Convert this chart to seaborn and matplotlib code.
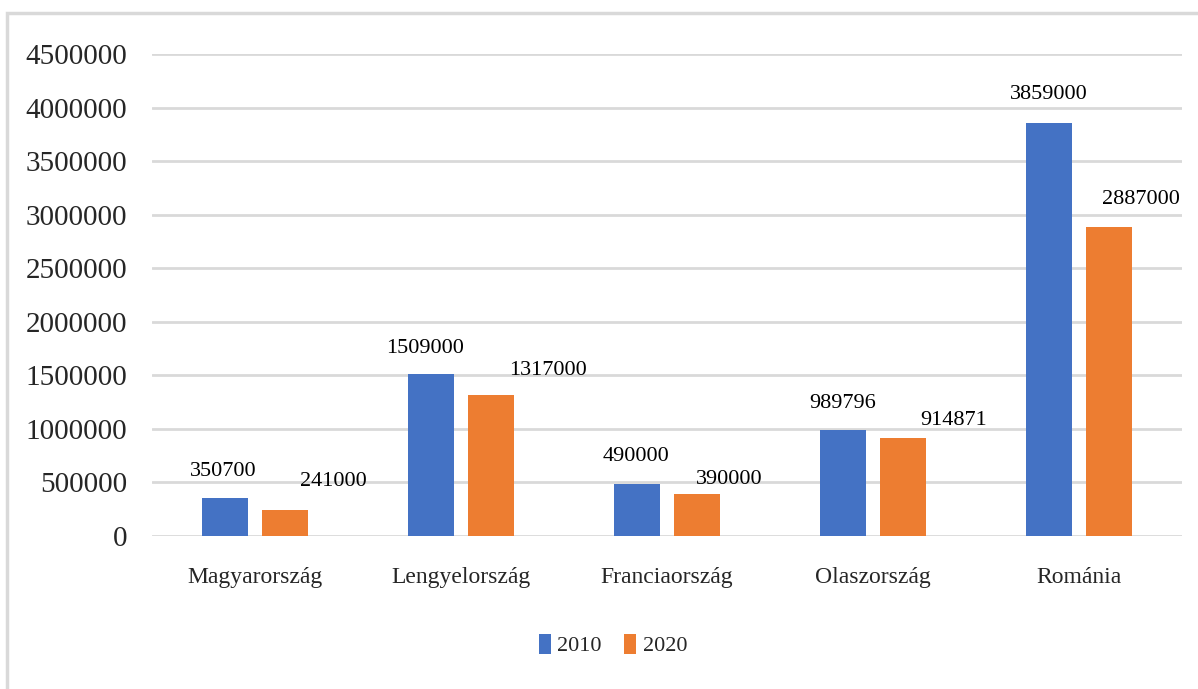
import matplotlib
matplotlib.use("Agg")
import matplotlib.pyplot as plt
import seaborn as sns
import pandas as pd
from matplotlib.patches import Rectangle, Patch

countries = ["Magyarország", "Lengyelország", "Franciaország", "Olaszország", "Románia"]
years = ["2010", "2020"]
values_2010 = [350700, 1509000, 490000, 989796, 3859000]
values_2020 = [241000, 1317000, 390000, 914871, 2887000]
yticks = [0, 500000, 1000000, 1500000, 2000000, 2500000, 3000000, 3500000, 4000000, 4500000]

colors = ["#4472C4", "#ED7D31"]

df = pd.DataFrame({
    "country": countries * 2,
    "year": [years[0]] * len(countries) + [years[1]] * len(countries),
    "value": values_2010 + values_2020,
})

sns.set_theme(style="white")
plt.rcParams["font.family"] = ["Liberation Serif", "DejaVu Serif"]

fig = plt.figure(figsize=(11.98, 6.89), dpi=100)
ax = fig.add_axes([152 / 1198, 1 - 536 / 689, (1182 - 152) / 1198, (536 - 54) / 689])

sns.barplot(data=df, x="country", y="value", hue="year", order=countries,
            hue_order=years, palette=colors, width=0.584, gap=0.23,
            saturation=1, ax=ax, legend=False, edgecolor="none")

ax.set_ylim(0, 4500000)
ax.set_xlim(-0.5, len(countries) - 0.5)
ax.set_yticks(yticks)
ax.set_yticklabels([str(v) for v in yticks], fontsize=21)
ax.tick_params(axis="y", length=0, pad=18)
ax.tick_params(axis="x", length=0, pad=22, labelsize=17)
ax.set_xlabel("")
ax.set_ylabel("")
for s in ax.spines.values():
    s.set_visible(False)
ax.yaxis.grid(True, color="#d9d9d9", linewidth=2)
ax.set_axisbelow(True)

# data labels
dx_px = {years[0]: [-2, -6, -1, 0, 0], years[1]: [48, 57, 32, 51, 32]}
dy_px = {years[0]: [22, 21, 23, 22, 24], years[1]: [24, 20, 10, 13, 23]}
containers = ax.containers
for yi, (yr, cont) in enumerate(zip(years, containers)):
    vals = values_2010 if yi == 0 else values_2020
    for ci, (bar, v) in enumerate(zip(cont, vals)):
        xc = bar.get_x() + bar.get_width() / 2
        ax.annotate(str(v), xy=(xc, bar.get_height()),
                    xytext=(dx_px[yr][ci], dy_px[yr][ci]), textcoords="offset pixels",
                    ha="center", va="baseline", fontsize=16, color="#000000")

handles = [Patch(facecolor=c, edgecolor="none") for c in colors]
fig.legend(handles, years, loc="center", bbox_to_anchor=(613 / 1198, 1 - 645 / 689),
           ncol=2, frameon=False, fontsize=16, handlelength=0.55, handleheight=1.0,
           handletextpad=0.3, columnspacing=1.0)

fig.patches.append(Rectangle((7 / 1198, -0.05), 1.1, 1 - 13 / 689 + 0.05,
                             transform=fig.transFigure, fill=False,
                             edgecolor="#d9d9d9", linewidth=2.5))

fig.savefig("out.png", dpi=100)
